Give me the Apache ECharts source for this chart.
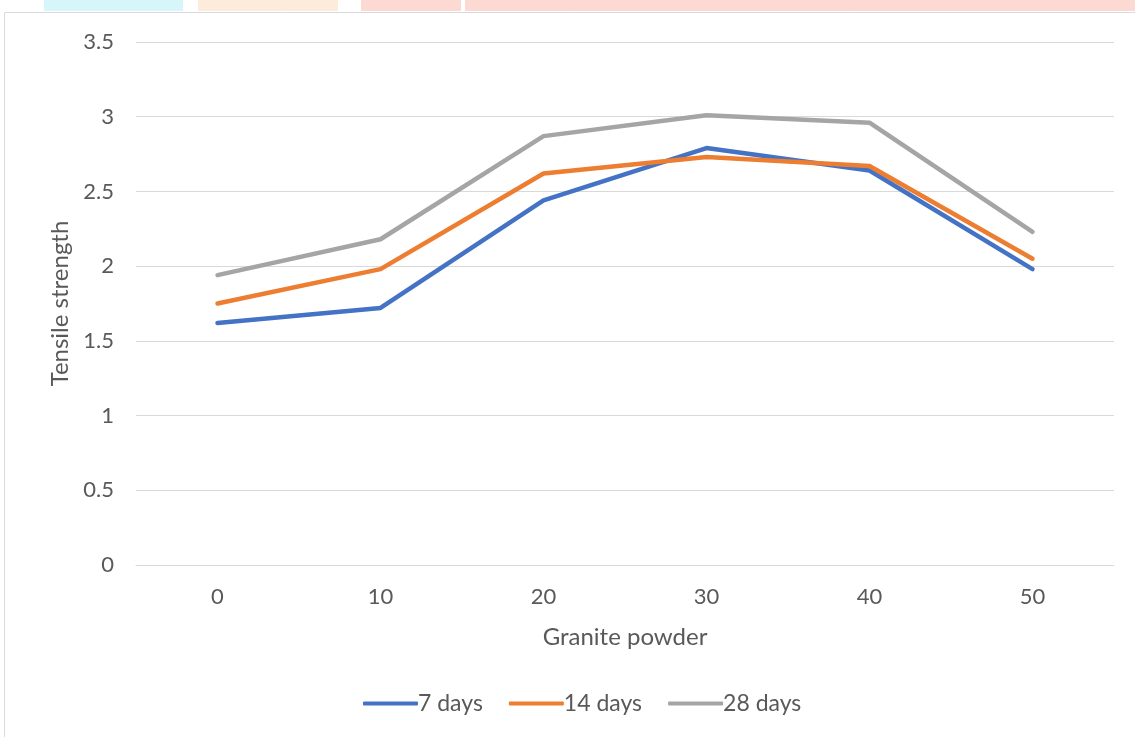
<!DOCTYPE html>
<html><head><meta charset="utf-8">
<script src="https://cdn.jsdelivr.net/npm/echarts@6/dist/echarts.min.js"></script>
<style>html,body{margin:0;padding:0;background:#fff;}#c{width:1135px;height:737px;}</style>
</head><body><div id="c"></div>
<script>
const categories = ['0','10','20','30','40','50'];
const days7 = [1.62, 1.72, 2.44, 2.79, 2.64, 1.98];
const days14 = [1.75, 1.98, 2.62, 2.73, 2.67, 2.05];
const days28 = [1.94, 2.18, 2.87, 3.01, 2.96, 2.23];
const seriesNames = ['7 days', '14 days', '28 days'];
const colors = ['#4472C4', '#ED7D31', '#A5A5A5'];

const chart = echarts.init(document.getElementById('c'));
const font = 'Lato, "Open Sans", "Liberation Sans", sans-serif';
const mk = (name, data, color) => ({
  name, type: 'line', data, symbol: 'none', smooth: false,
  lineStyle: { width: 4.5, color, cap: 'round', join: 'round' },
  itemStyle: { color }
});
chart.setOption({
  animation: false,
  textStyle: { fontFamily: font },
  graphic: [
    { type: 'rect', shape: { x: 44, y: 0, width: 139, height: 11 }, style: { fill: '#d6f6fc' }, silent: true },
    { type: 'rect', shape: { x: 198, y: 0, width: 140, height: 11 }, style: { fill: '#fdecdb' }, silent: true },
    { type: 'rect', shape: { x: 361, y: 0, width: 100, height: 11 }, style: { fill: '#fdd9d4' }, silent: true },
    { type: 'rect', shape: { x: 465, y: 0, width: 700, height: 11 }, style: { fill: '#fdd9d4' }, silent: true },
    { type: 'rect', shape: { x: 4.5, y: 12.5, width: 1140, height: 740 }, style: { fill: 'none', stroke: '#d9d9d9', lineWidth: 1 }, silent: true }
  ],
  grid: { left: 136, right: 21, top: 42, bottom: 172, containLabel: false },
  legend: {
    data: seriesNames, bottom: 17, left: 358,
    itemWidth: 55, itemHeight: 4, itemGap: 26,
    icon: 'roundRect',
    textStyle: { fontSize: 23, color: '#595959', fontFamily: font, padding: [0,0,0,-5] }
  },
  xAxis: {
    type: 'category', data: categories, boundaryGap: true,
    name: 'Granite powder', nameLocation: 'middle', nameGap: 60,
    nameTextStyle: { fontSize: 24, color: '#595959' },
    axisLine: { show: true, lineStyle: { color: '#d9d9d9', width: 1 } },
    axisTick: { show: false },
    axisLabel: { fontSize: 22, color: '#595959', margin: 21 }
  },
  yAxis: {
    type: 'value', min: 0, max: 3.5, interval: 0.5,
    name: 'Tensile strength', nameLocation: 'middle', nameGap: 64,
    nameTextStyle: { fontSize: 24, color: '#595959' },
    axisLine: { show: false }, axisTick: { show: false },
    axisLabel: { fontSize: 22, color: '#595959', margin: 22 },
    splitLine: { lineStyle: { color: '#d9d9d9', width: 1 } }
  },
  series: [
    mk(seriesNames[0], days7, colors[0]),
    mk(seriesNames[1], days14, colors[1]),
    mk(seriesNames[2], days28, colors[2])
  ]
});
</script></body></html>
